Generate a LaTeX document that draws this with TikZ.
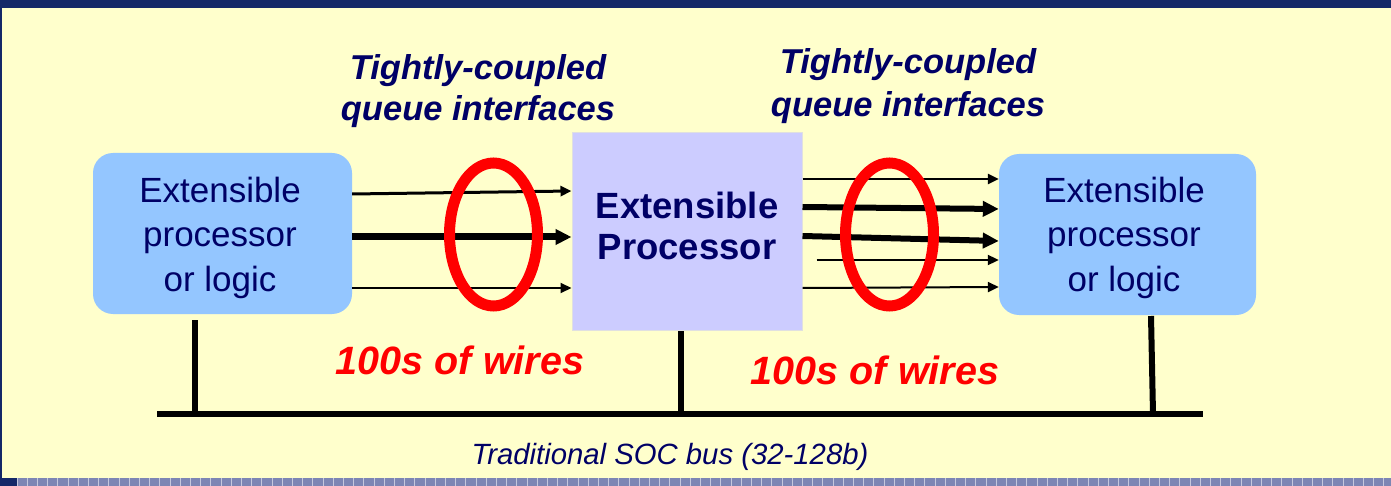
\documentclass[tikz,border=0pt]{standalone}
\usepackage{fontspec}
\setmainfont{Liberation Sans}
\usetikzlibrary{arrows.meta}
\definecolor{cream}{HTML}{FFFFCC}
\definecolor{navybar}{HTML}{142868}
\definecolor{boxblue}{HTML}{94C6FF}
\definecolor{boxlilac}{HTML}{CCCCFF}
\definecolor{textnavy}{HTML}{000066}
\definecolor{stripe}{HTML}{7D86B4}

\begin{document}
\begin{tikzpicture}[x=1pt,y=-1pt,
  wire/.style={line width=#1,-{Triangle[length=11pt,width=10pt]}},
  fatwire/.style={line width=#1,-{Triangle[length=16pt,width=15pt]}},
  ring/.style={draw=red,line width=11pt},
  stub/.style={line width=6pt}]
\useasboundingbox (0,0) rectangle (1391,486);
\fill[cream] (0,0) rectangle (1391,486);
\fill[navybar] (0,0) rectangle (1391,8);
\fill[navybar] (0,0) rectangle (1.5,478);
\fill[stripe] (0,478) rectangle (1391,486);
\fill[navybar] (0,478) rectangle (17,486);
\foreach \i in {0,...,135}
  \draw[white!55!stripe,line width=0.8pt] (17+10.2*\i,478) -- (17+10.2*\i,486);

\begin{scope}[every node/.style={text=textnavy,align=center}]
\node[fill=boxblue,rounded corners=20pt,minimum width=259pt,minimum height=161pt] (L) at (222.5,233.5) {};
\node[fill=boxblue,rounded corners=20pt,minimum width=257pt,minimum height=161pt] (R) at (1127.5,234.5) {};
\node[fill=boxlilac,draw=black!12,line width=1pt,minimum width=230pt,minimum height=197pt] (P) at (687,231.5) {};
\node[font=\fontsize{35}{44.5}\selectfont] (Ltext) at (220,237.5) {Extensible\\processor\\or logic};
\node[font=\fontsize{35}{44.5}\selectfont] (Rtext) at (1124,237.5) {Extensible\\processor\\or logic};
\node[font=\fontsize{36.5}{41}\selectfont\bfseries] (Ptext) at (687,226) {Extensible\\Processor};
\node[font=\fontsize{34.5}{41}\selectfont\bfseries\itshape] (tl) at (478,91) {Tightly-coupled\\queue interfaces};
\node[font=\fontsize{34.5}{43}\selectfont\bfseries\itshape] (tr) at (908,86.5) {Tightly-coupled\\queue interfaces};
\node[text=red,font=\fontsize{39.5}{47}\selectfont\bfseries\itshape] (wl) at (460,360) {100s of wires};
\node[text=red,font=\fontsize{39.5}{47}\selectfont\bfseries\itshape] (wr) at (875,370) {100s of wires};
\node[font=\fontsize{29.3}{35}\selectfont\itshape] (bus) at (670,457) {Traditional SOC bus (32-128b)};
\end{scope}

\draw[wire=3pt] (L.east |- 0,194) -- (P.west |- 0,191);
\draw[fatwire=7pt] (L.east |- 0,237) -- (P.west |- 0,237);
\draw[wire=2pt] (L.east |- 0,288) -- (P.west |- 0,288);

\coordinate (tap) at ([xshift=14pt]P.east);
\draw[wire=2.5pt] (P.east |- 0,179) -- (R.west |- 0,179);
\draw[fatwire=6pt] (P.east |- 0,207) -- (R.west |- 0,209);
\draw[fatwire=6pt] (P.east |- 0,236) -- (R.west |- 0,241);
\draw[wire=2pt] (tap |- 0,260) -- (R.west |- 0,260);
\draw[wire=2pt] (P.east |- 0,288) -- (R.west |- 0,287);

\draw[ring] (493.5,234.5) ellipse [x radius=44, y radius=71.5];
\draw[ring] (889.5,234.5) ellipse [x radius=44, y radius=71.5];

\coordinate (busW) at (157,414);
\coordinate (busE) at (1203,414);
\coordinate (tapL) at (195,320);
\coordinate (tapP) at (681,331);
\coordinate (tapR) at (1151,316);
\draw[stub] (busW) -- (busE);
\draw[stub] (tapL) -- (tapL |- busW);
\draw[stub] (tapP) -- (tapP |- busW);
\draw[stub] (tapR) -- (1153,414);
\end{tikzpicture}
\end{document}
